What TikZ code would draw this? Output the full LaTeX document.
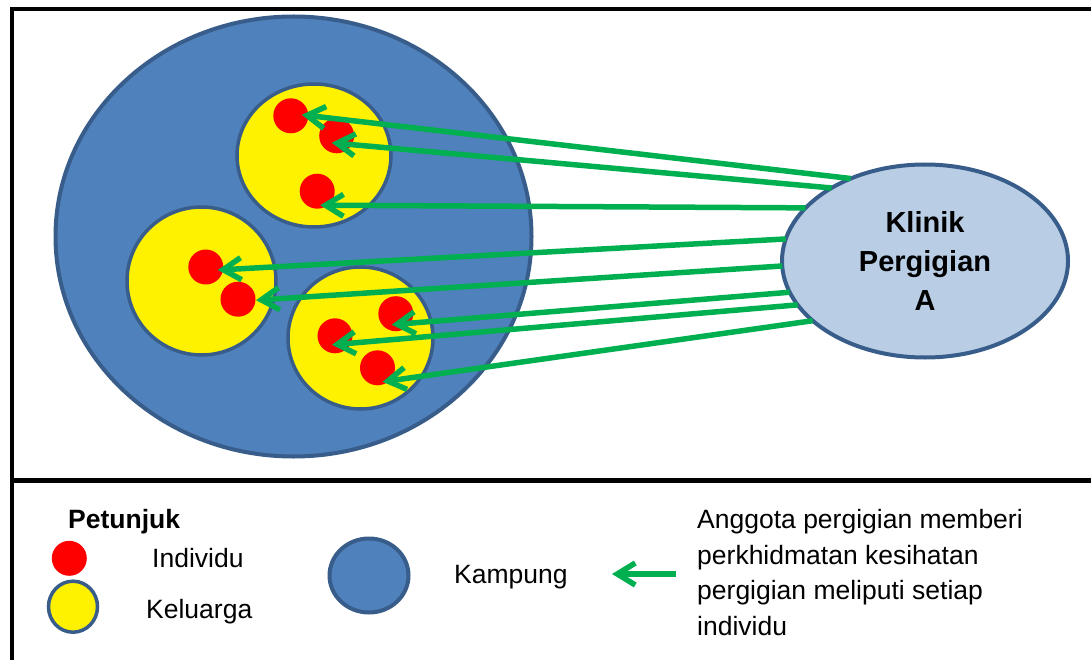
\documentclass[tikz,border=0pt]{standalone}
\usepackage{fontspec}
\setmainfont{Liberation Sans}
\usetikzlibrary{arrows.meta,shapes.geometric,calc}
\definecolor{kampungblue}{HTML}{4F81BD}
\definecolor{edgeblue}{HTML}{385D8A}
\definecolor{klinikblue}{HTML}{B9CDE5}
\definecolor{arrowgreen}{HTML}{00B050}
\begin{document}
\begin{tikzpicture}[x=1pt,y=-1pt,
  kampung/.style={ellipse,draw=edgeblue,line width=4pt,fill=kampungblue,inner sep=0pt,outer sep=0pt},
  keluarga/.style={ellipse,draw=edgeblue,line width=3.5pt,fill=yellow,inner sep=0pt,outer sep=0pt},
  individu/.style={circle,fill=red,minimum size=35pt,inner sep=0pt,outer sep=0pt},
  pointer/.style={arrowgreen,line width=5.5pt,-{Straight Barb[length=18pt,width=22pt]}},
  legendtext/.style={inner sep=0pt,anchor=base west,font=\fontsize{26.5}{35.5}\selectfont}]
  \useasboundingbox (0,0) rectangle (1091,660);

  % Frame
  \draw[line width=4pt] (11.5,660) -- (11.5,8.7) -- (1091,8.7);
  \draw[line width=5pt] (11.5,480) -- (1091,480);

  % Kampung
  \node[kampung, minimum width=476pt, minimum height=440pt] (kampung) at (293.5,236.5) {};

  % Keluarga
  \node[keluarga, minimum width=154pt, minimum height=143pt] (k1) at (314,155.5) {};
  \node[keluarga, minimum width=149pt, minimum height=148pt] (k2) at (201.5,281) {};
  \node[keluarga, minimum width=145pt, minimum height=142pt] (k3) at (360.5,338) {};

  % Individu
  \node[individu] (i1) at (290.8,115.8) {};
  \node[individu] (i2) at (336.7,135.8) {};
  \node[individu] (i3) at (317.2,191.2) {};
  \node[individu] (i4) at (205.8,267) {};
  \node[individu] (i5) at (238,299.2) {};
  \node[individu] (i6) at (395.8,313.7) {};
  \node[individu] (i7) at (335,335.8) {};
  \node[individu] (i8) at (377.5,367.8) {};

  % Klinik
  \node[ellipse, draw=edgeblue, line width=4pt, fill=klinikblue, minimum width=286pt, minimum height=193pt,
    inner sep=0pt, outer sep=0pt, align=center, font=\bfseries\fontsize{29}{39}\selectfont]
    (klinik) at (925,261) {Klinik\\Pergigian\\A};

  % Perkhidmatan
  \draw[pointer] (klinik.132) -- ($(i1)+(11,-1)$);
  \draw[pointer] (klinik.142) -- ($(i2)+(-5,7)$);
  \draw[pointer] (klinik.156) -- ($(i3)+(3,14)$);
  \draw[pointer] (klinik.171) -- ($(i4)+(12,3)$);
  \draw[pointer] (klinik.182) -- ($(i5)+(18,1)$);
  \draw[pointer] (klinik.193) -- ($(i6)+(-4,11)$);
  \draw[pointer] (klinik.199) -- ($(i7)+(-3,9)$);
  \draw[pointer] (klinik.208) -- ($(i8)+(5,14)$);

  % Petunjuk
  \node[legendtext, font=\bfseries\fontsize{26.5}{35}\selectfont] (petunjuk) at (68,528) {Petunjuk};
  \node[individu] (legindividu) at (69.3,558.3) {};
  \node[legendtext] (txtindividu) at (152,567.7) {Individu};
  \node[keluarga, minimum width=49pt, minimum height=51pt] (legkeluarga) at (73,606.7) {};
  \node[legendtext] (txtkeluarga) at (146,618) {Keluarga};
  \node[kampung, minimum width=79pt, minimum height=74pt] (legkampung) at (369,575.5) {};
  \node[legendtext] (txtkampung) at (454,583) {Kampung};
  \coordinate (legtail) at (676,574);
  \coordinate (leghead) at (612,574);
  \draw[pointer] (legtail) -- (leghead);
  \node[legendtext, anchor=north west, align=left] (txtpointer) at (697,509.3)
    {Anggota pergigian memberi\\perkhidmatan kesihatan\\pergigian meliputi setiap\\individu};
\end{tikzpicture}
\end{document}
